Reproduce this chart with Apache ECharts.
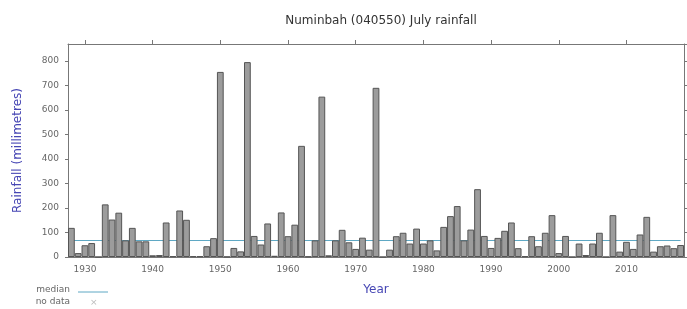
<!DOCTYPE html>
<html>
<head>
<meta charset="utf-8">
<script src="https://cdn.jsdelivr.net/npm/echarts@6/dist/echarts.min.js"></script>
<style>
  html, body { margin: 0; padding: 0; background: #fff; }
  #main { width: 687px; height: 309px; }
</style>
</head>
<body>
<div id="main"></div>
<script>
// 年份 1928-2018
const years = [
  "1928","1929","1930","1931","1932","1933","1934","1935","1936","1937",
  "1938","1939","1940","1941","1942","1943","1944","1945","1946","1947",
  "1948","1949","1950","1951","1952","1953","1954","1955","1956","1957",
  "1958","1959","1960","1961","1962","1963","1964","1965","1966","1967",
  "1968","1969","1970","1971","1972","1973","1974","1975","1976","1977",
  "1978","1979","1980","1981","1982","1983","1984","1985","1986","1987",
  "1988","1989","1990","1991","1992","1993","1994","1995","1996","1997",
  "1998","1999","2000","2001","2002","2003","2004","2005","2006","2007",
  "2008","2009","2010","2011","2012","2013","2014","2015","2016","2017",
  "2018"
];

// 七月降雨量 (mm)
const rainfall = [
  119, 16, 48, 57, 0, 215, 153, 181, 68, 119,
  64, 64, 7, 8, 141, 3, 190, 152, 3, 3,
  44, 77, 756, 1, 37, 23, 796, 86, 51, 137,
  5, 182, 85, 132, 454, 2, 68, 655, 7, 68,
  111, 60, 33, 79, 30, 691, 0, 30, 85, 99,
  55, 116, 55, 68, 27, 123, 167, 208, 68, 112,
  277, 86, 37, 78, 107, 141, 36, 3, 85, 44,
  99, 171, 16, 86, 0, 55, 8, 55, 99, 0,
  171, 22, 62, 33, 92, 164, 22, 44, 47, 36,
  49
];

const medianValue = 68;
const yTicks = [0, 100, 200, 300, 400, 500, 600, 700, 800];

const font = "DejaVu Sans";
const frameColor = "#777";
const decade = (idx, val) => Number(val) % 10 === 0;

const chart = echarts.init(document.getElementById("main"));

const option = {
  animation: false,
  title: {
    text: "Numinbah (040550) July rainfall",
    left: 376,
    top: 10,
    textAlign: "center",
    textStyle: { fontFamily: font, fontSize: 12, fontWeight: "normal", color: "#333" }
  },
  grid: { left: 68, right: 3, top: 44, bottom: 52 },
  xAxis: [
    {
      type: "category",
      data: years,
      name: "Year",
      nameLocation: "middle",
      nameGap: 27,
      nameTextStyle: { fontFamily: font, fontSize: 12, color: "#4646b4" },
      axisLine: { onZero: false, lineStyle: { color: frameColor } },
      axisTick: { interval: decade, alignWithLabel: true, length: 3, lineStyle: { color: frameColor } },
      axisLabel: { interval: decade, fontFamily: font, fontSize: 9, color: "#666", margin: 8 }
    },
    {
      type: "category",
      data: years,
      position: "top",
      axisLine: { onZero: false, lineStyle: { color: frameColor } },
      axisTick: { show: true, interval: decade, alignWithLabel: true, length: 4, lineStyle: { color: frameColor } },
      axisLabel: { show: false, interval: decade }
    }
  ],
  yAxis: [
    {
      type: "value",
      min: 0,
      max: 870,
      interval: 100,
      name: "Rainfall (millimetres)",
      nameLocation: "middle",
      nameGap: 44,
      nameRotate: 90,
      nameTextStyle: { fontFamily: font, fontSize: 12, color: "#4646b4" },
      axisLine: { show: true, lineStyle: { color: frameColor } },
      axisTick: { show: true, length: 3, lineStyle: { color: frameColor } },
      axisLabel: {
        fontFamily: font, fontSize: 9, color: "#666", margin: 9,
        showMaxLabel: false,
        formatter: (v) => (yTicks.includes(v) ? String(v) : "")
      },
      splitLine: { show: false }
    },
    {
      type: "value",
      min: 0,
      max: 870,
      interval: 100,
      position: "right",
      axisLine: { show: true, lineStyle: { color: frameColor } },
      axisTick: { show: true, length: 3, lineStyle: { color: frameColor } },
      axisLabel: { show: false },
      splitLine: { show: false }
    }
  ],
  series: [
    {
      name: "rainfall",
      type: "bar",
      data: rainfall,
      barWidth: "100%",
      z: 3,
      itemStyle: { color: "#9c9c9c", borderColor: "#555", borderWidth: 1 }
    },
    {
      name: "median",
      type: "line",
      data: [],
      z: 1,
      markLine: {
        silent: true,
        symbol: "none",
        z: 1,
        label: { show: false },
        lineStyle: { color: "#5fa8c4", width: 1, type: "solid" },
        data: [[{ coord: [years[0], medianValue] }, { coord: [years[years.length - 1], medianValue] }]]
      }
    }
  ],
  graphic: [
    { type: "text", right: 617, top: 285, style: { text: "median", fontFamily: font, fontSize: 9, fill: "#666", textAlign: "right" } },
    { type: "line", shape: { x1: 78, y1: 292, x2: 108, y2: 292 }, style: { stroke: "#5fa8c4", lineWidth: 1 } },
    { type: "text", right: 617, top: 297, style: { text: "no data", fontFamily: font, fontSize: 9, fill: "#666" } },
    { type: "text", left: 90, top: 298, style: { text: "×", fontFamily: font, fontSize: 9, fill: "#bbb" } }
  ]
};

chart.setOption(option);
</script>
</body>
</html>
